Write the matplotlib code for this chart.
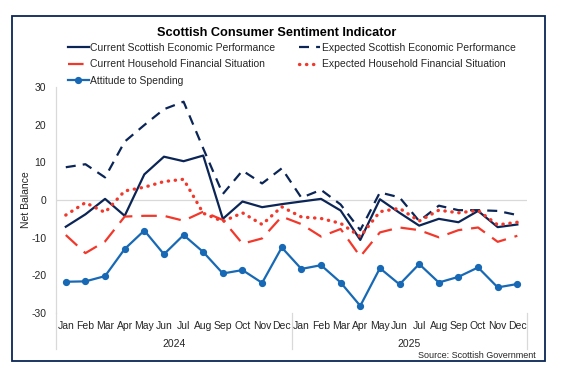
import matplotlib
matplotlib.use("Agg")
import matplotlib.pyplot as plt
from matplotlib.patches import Rectangle

plt.rcParams['font.family'] = ['Liberation Sans', 'DejaVu Sans']
plt.rcParams['axes.unicode_minus'] = False

months = ['Jan', 'Feb', 'Mar', 'Apr', 'May', 'Jun', 'Jul', 'Aug', 'Sep', 'Oct', 'Nov', 'Dec'] * 2
years = ['2024', '2025']

current_econ = [-7.1, -3.8, 0.3, -4.2, 6.8, 11.5, 10.3, 11.8, -5.0, -0.4, -1.9, -1.1,
                -0.4, 0.3, -2.8, -10.6, 0.2, -3.4, -6.8, -5.0, -5.9, -2.9, -7.2, -6.5]
expected_econ = [8.7, 9.5, 6.0, 15.5, 19.9, 24.1, 26.1, 13.7, 1.6, 7.8, 4.4, 8.4,
                 0.6, 2.7, -1.2, -8.0, 2.0, 0.7, -5.6, -1.5, -2.7, -2.7, -2.9, -4.0]
current_house = [-9.3, -14.1, -11.0, -4.4, -4.2, -4.2, -5.5, -3.1, -5.3, -11.6, -10.2, -4.4,
                 -6.4, -9.7, -7.7, -15.0, -8.6, -7.3, -8.0, -9.9, -8.0, -7.3, -11.1, -9.5]
expected_house = [-4.0, -0.7, -3.3, 2.4, 3.4, 4.9, 5.5, -3.5, -5.7, -3.4, -6.5, -1.8,
                  -4.5, -4.9, -6.2, -9.7, -3.1, -2.2, -5.6, -2.7, -3.4, -2.8, -6.6, -5.9]
spending = [-21.7, -21.6, -20.2, -13.0, -8.1, -14.4, -9.3, -13.8, -19.5, -18.6, -22.0, -12.6,
            -18.3, -17.3, -21.9, -28.1, -18.1, -22.4, -17.0, -21.9, -20.4, -17.9, -23.2, -22.3]

navy = '#0b2556'
red = '#f2382b'
blue = '#1769b5'
txt = '#262626'

x = list(range(len(months)))

fig = plt.figure(figsize=(5.62, 3.71), dpi=100)
ax = fig.add_axes([0.0996, 0.1563, 0.8384, 0.6092])

l1, = ax.plot(x, current_econ, color=navy, lw=1.6, label='Current Scottish Economic Performance')
l2, = ax.plot(x, expected_econ, color=navy, lw=1.6, dashes=(4.5, 3.2),
              label='Expected Scottish Economic Performance')
l3, = ax.plot(x, current_house, color=red, lw=1.6, dashes=(7, 4),
              label='Current Household Financial Situation')
l4, = ax.plot(x, expected_house, color=red, lw=2.4, linestyle=(0, (0.1, 2.0)),
              dash_capstyle='round', label='Expected Household Financial Situation')
l5, = ax.plot(x, spending, color=blue, lw=1.6, marker='o', ms=4.2,
              label='Attitude to Spending')

ax.axhline(0, color='#d9d9d9', lw=0.9, zorder=0)
ax.set_xlim(-0.5, len(months) - 0.5)
ax.set_ylim(-30, 30)
ax.set_yticks([-30, -20, -10, 0, 10, 20, 30])
ax.set_xticks(x)
ax.set_xticklabels(months)
ax.tick_params(axis='both', length=0, labelsize=7.5, colors=txt)
ax.tick_params(axis='x', pad=6)
ax.tick_params(axis='y', pad=7)
for s in ['top', 'right', 'bottom']:
    ax.spines[s].set_visible(False)
ax.spines['left'].set_color('#d9d9d9')
ax.spines['left'].set_linewidth(0.9)
ax.set_ylabel('Net Balance', fontsize=7.5, color=txt, labelpad=0)

# year separators and labels below month names
xt = ax.get_xaxis_transform()
for sx in [-0.5, 11.5, 23.5]:
    ax.plot([sx, sx], [0, -0.16], transform=xt, color='#d9d9d9', lw=0.9, clip_on=False)
for i, yr in enumerate(years):
    ax.text(5.5 + 12 * i, -0.135, yr, transform=xt, ha='center', va='center',
            fontsize=7.5, color=txt)

fig.text(0.493, 0.912, 'Scottish Consumer Sentiment Indicator', ha='center', va='center',
         fontsize=9.2, fontweight='bold', color='black')

fig.legend(handles=[l1, l3, l5, l2, l4], loc='upper left', bbox_to_anchor=(0.121, 0.884),
           ncol=2, frameon=False, fontsize=7.5, handlelength=2.0, handletextpad=0.15,
           columnspacing=2.3, labelspacing=0.62, borderaxespad=0, borderpad=0,
           labelcolor=txt)

fig.text(0.954, 0.043, 'Source: Scottish Government', ha='right', va='center',
         fontsize=6.5, color=txt)

fig.patches.append(Rectangle((0.022, 0.027), 0.948, 0.93, transform=fig.transFigure,
                             fill=False, edgecolor=navy, lw=1.3))

fig.savefig('out.png', dpi=100)
